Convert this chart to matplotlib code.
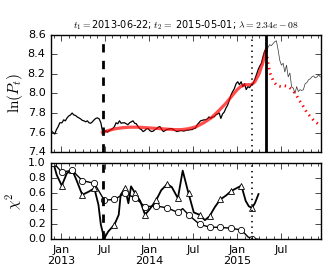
import numpy as np
import pandas as pd
import matplotlib
matplotlib.use('Agg')
import matplotlib.pyplot as plt
import matplotlib.dates as mdates

plt.style.use('classic')
plt.rcParams['mathtext.fontset'] = 'cm'
plt.rcParams['font.family'] = 'DejaVu Sans'

# ---- data ----
t1 = '2013-06-22'
t2 = '2015-05-01'
t_mark = '2015-03-01'

price_dates = [
    '2012-11-22', '2012-11-29', '2012-12-06', '2012-12-13', '2012-12-20', '2012-12-27',
    '2013-01-05', '2013-01-12', '2013-01-19', '2013-01-26', '2013-02-02', '2013-02-09',
    '2013-02-16', '2013-02-23', '2013-03-02', '2013-03-09', '2013-03-16', '2013-03-23',
    '2013-03-30', '2013-04-06', '2013-04-13', '2013-04-20', '2013-04-27', '2013-05-04',
    '2013-05-11', '2013-05-18', '2013-05-25', '2013-06-01', '2013-06-08', '2013-06-15',
    '2013-06-22', '2013-06-29', '2013-07-06', '2013-07-13', '2013-07-20', '2013-07-27',
    '2013-08-03', '2013-08-10', '2013-08-17', '2013-08-24', '2013-08-31', '2013-09-07',
    '2013-09-14', '2013-09-21', '2013-09-28', '2013-10-05', '2013-10-12', '2013-10-19',
    '2013-10-26', '2013-11-02', '2013-11-09', '2013-11-16', '2013-11-23', '2013-11-30',
    '2013-12-07', '2013-12-14', '2013-12-21', '2013-12-28', '2014-01-04', '2014-01-11',
    '2014-01-18', '2014-01-25', '2014-02-01', '2014-02-08', '2014-02-15', '2014-02-22',
    '2014-03-01', '2014-03-08', '2014-03-15', '2014-03-22', '2014-03-29', '2014-04-05',
    '2014-04-12', '2014-04-19', '2014-04-26', '2014-05-03', '2014-05-10', '2014-05-17',
    '2014-05-24', '2014-05-31', '2014-06-07', '2014-06-14', '2014-06-21', '2014-06-28',
    '2014-07-05', '2014-07-12', '2014-07-19', '2014-07-26', '2014-08-02', '2014-08-09',
    '2014-08-16', '2014-08-23', '2014-08-30', '2014-09-06', '2014-09-13', '2014-09-20',
    '2014-09-27', '2014-10-04', '2014-10-11', '2014-10-18', '2014-10-25', '2014-11-01',
    '2014-11-08', '2014-11-15', '2014-11-22', '2014-11-29', '2014-12-06', '2014-12-13',
    '2014-12-20', '2014-12-27', '2015-01-03', '2015-01-10', '2015-01-17', '2015-01-24',
    '2015-01-31', '2015-02-07', '2015-02-14', '2015-02-21', '2015-02-28', '2015-03-07',
    '2015-03-14', '2015-03-21', '2015-03-28', '2015-04-04', '2015-04-11', '2015-04-18',
    '2015-04-25', '2015-05-01', '2015-05-08', '2015-05-15', '2015-05-22', '2015-05-29',
    '2015-06-05', '2015-06-12', '2015-06-19', '2015-06-26', '2015-07-03', '2015-07-10',
    '2015-07-17', '2015-07-24', '2015-07-31', '2015-08-07', '2015-08-14', '2015-08-21',
    '2015-08-28', '2015-09-04', '2015-09-11', '2015-09-18', '2015-09-25', '2015-10-02',
    '2015-10-09', '2015-10-16', '2015-10-23', '2015-10-30', '2015-11-06', '2015-11-13',
    '2015-11-20', '2015-11-27', '2015-12-04', '2015-12-11']
price_vals = [
    7.615, 7.60, 7.585, 7.63, 7.66, 7.70,
    7.70, 7.73, 7.72, 7.75, 7.77, 7.78,
    7.80, 7.78, 7.775, 7.76, 7.75, 7.74,
    7.725, 7.72, 7.71, 7.72, 7.70, 7.695,
    7.71, 7.73, 7.745, 7.75, 7.74, 7.70,
    7.61, 7.60, 7.62, 7.605, 7.62, 7.63,
    7.64, 7.66, 7.70, 7.69, 7.72, 7.695,
    7.70, 7.70, 7.69, 7.68, 7.70, 7.71,
    7.72, 7.695, 7.69, 7.66, 7.64, 7.63,
    7.61, 7.62, 7.64, 7.64, 7.62, 7.61,
    7.615, 7.63, 7.64, 7.655, 7.66, 7.63,
    7.61, 7.62, 7.63, 7.635, 7.64, 7.64,
    7.63, 7.62, 7.61, 7.615, 7.62, 7.62,
    7.615, 7.62, 7.625, 7.625, 7.63, 7.63,
    7.64, 7.645, 7.68, 7.70, 7.72, 7.725,
    7.73, 7.73, 7.74, 7.76, 7.745, 7.76,
    7.76, 7.78, 7.79, 7.80, 7.745, 7.79,
    7.81, 7.85, 7.88, 7.93, 7.985, 8.02,
    8.05, 8.10, 8.12, 8.09, 8.12, 8.07,
    8.10, 8.04, 8.07, 8.06, 8.09, 8.10,
    8.14, 8.19, 8.24, 8.28, 8.31, 8.38,
    8.44, 8.42, 8.47, 8.50, 8.49, 8.51,
    8.53, 8.54, 8.45, 8.34, 8.29, 8.31,
    8.22, 8.29, 8.17, 8.21, 8.07, 8.055,
    8.00, 8.07, 8.02, 8.04, 8.03, 8.04,
    8.10, 8.11, 8.14, 8.15, 8.17, 8.18,
    8.16, 8.17, 8.19, 8.17]

fit_dates = [
    '2013-06-22', '2013-07-15', '2013-08-15', '2013-09-15', '2013-10-15', '2013-11-15',
    '2013-12-15', '2014-01-15', '2014-02-15', '2014-03-15', '2014-04-15', '2014-05-15',
    '2014-06-15', '2014-07-15', '2014-08-15', '2014-09-15', '2014-10-15', '2014-11-15',
    '2014-12-15', '2015-01-01', '2015-01-15', '2015-02-01', '2015-02-15', '2015-03-01',
    '2015-03-15', '2015-04-01', '2015-04-15', '2015-05-01']
fit_vals = [
    7.60, 7.62, 7.64, 7.65, 7.655, 7.655,
    7.65, 7.645, 7.64, 7.635, 7.63, 7.63,
    7.64, 7.66, 7.70, 7.75, 7.82, 7.90,
    7.99, 8.04, 8.07, 8.09, 8.09, 8.09,
    8.12, 8.20, 8.30, 8.45]

extra_dates = [
    '2015-05-01', '2015-05-15', '2015-06-01', '2015-06-15', '2015-07-01', '2015-07-15',
    '2015-08-01', '2015-08-15', '2015-09-01', '2015-09-15', '2015-10-01', '2015-10-15',
    '2015-11-01', '2015-11-15', '2015-12-01', '2015-12-14']
extra_vals = [
    8.43, 8.22, 8.12, 8.08, 8.07, 8.08,
    8.07, 8.04, 7.99, 7.93, 7.87, 7.81,
    7.76, 7.72, 7.69, 7.67]

tri_dates = [
    '2012-11-30', '2012-12-14', '2013-01-04', '2013-01-25', '2013-02-16', '2013-03-05',
    '2013-03-30', '2013-04-25', '2013-05-19', '2013-06-05', '2013-06-15', '2013-06-29',
    '2013-07-15', '2013-08-10', '2013-08-28', '2013-09-05', '2013-09-23', '2013-10-07',
    '2013-10-18', '2013-11-04', '2013-11-25', '2013-12-15', '2014-01-05', '2014-01-30',
    '2014-02-20', '2014-03-17', '2014-04-05', '2014-04-30', '2014-05-20', '2014-06-13',
    '2014-07-05', '2014-07-29', '2014-08-20', '2014-09-08', '2014-09-30', '2014-10-23',
    '2014-11-15', '2014-12-07', '2014-12-25', '2015-01-18', '2015-02-05', '2015-02-18',
    '2015-03-03', '2015-03-15', '2015-03-30']
tri_vals = [
    1.00, 0.84, 0.70, 0.86, 0.905, 0.78,
    0.58, 0.62, 0.665, 0.45, 0.19, 0.01,
    0.10, 0.19, 0.32, 0.58, 0.665, 0.47,
    0.69, 0.60, 0.50, 0.32, 0.40, 0.51,
    0.64, 0.72, 0.68, 0.535, 0.895, 0.60,
    0.35, 0.32, 0.25, 0.30, 0.42, 0.52,
    0.57, 0.63, 0.66, 0.70, 0.50, 0.43,
    0.41, 0.47, 0.59]
tri_marks = [0, 2, 4, 6, 8, 13, 16, 19, 21, 23, 25, 27, 29, 31, 33, 35, 37, 39, 42]

circ_dates = [
    '2012-11-30', '2013-01-04', '2013-02-16', '2013-03-30', '2013-05-19', '2013-06-29',
    '2013-08-10', '2013-09-23', '2013-11-04', '2013-12-15', '2014-01-30', '2014-03-17',
    '2014-04-30', '2014-05-20', '2014-06-13', '2014-07-29', '2014-09-08', '2014-10-23',
    '2014-12-07', '2015-01-18', '2015-02-15', '2015-03-03', '2015-03-30']
circ_vals = [
    1.00, 0.875, 0.90, 0.765, 0.73, 0.51,
    0.52, 0.60, 0.54, 0.425, 0.435, 0.41,
    0.35, 0.40, 0.32, 0.195, 0.16, 0.155,
    0.145, 0.12, 0.03, 0.01, 0.0]
circ_marks = [0, 1, 2, 3, 4, 5, 6, 7, 8, 9, 10, 11, 12, 14, 15, 16, 17, 18, 19, 21]

# ---- prepare ----
pd_dates = pd.to_datetime(price_dates)
pv = np.array(price_vals)
T1 = pd.Timestamp(t1)
T2 = pd.Timestamp(t2)
inside = pd_dates <= T2
outside = pd_dates >= T2

fig = plt.figure(figsize=(3.32, 2.77), dpi=100, facecolor='white')
ax1 = fig.add_axes([0.154, 0.451, 0.813, 0.423])
ax2 = fig.add_axes([0.154, 0.136, 0.813, 0.277], sharex=ax1)

ax1.plot(pd_dates[inside], pv[inside], color='k', lw=0.9)
ax1.plot(pd_dates[outside], pv[outside], color='#333333', lw=0.5)
ax1.plot(pd.to_datetime(fit_dates), fit_vals, color='red', lw=2.3, alpha=0.7)
ax1.plot(pd.to_datetime(extra_dates), extra_vals, color='red', lw=2, ls=':')
ax1.axvline(T1, color='k', lw=2, ls='--')
ax1.axvline(pd.Timestamp(t_mark), color='k', lw=1.2, ls=':')
ax1.axvline(T2, color='k', lw=2)
ax1.set_ylim(7.4, 8.6)
ax1.set_yticks(np.arange(7.4, 8.61, 0.2))
ax1.set_ylabel(r'$\ln(P_t)$', fontsize=11, labelpad=2)
ax1.set_title(r'$t_1=$2013-06-22; $t_2=$ 2015-05-01; $\lambda=2.34e-08$', fontsize=7)
plt.setp(ax1.get_xticklabels(), visible=False)

ax2.plot(pd.to_datetime(tri_dates), tri_vals, color='k', lw=1.3, marker='^',
         mfc='white', mec='k', ms=4.5, mew=0.6, markevery=tri_marks)
ax2.plot(pd.to_datetime(circ_dates), circ_vals, color='k', lw=1.0, marker='o',
         mfc='white', mec='k', ms=4.5, mew=0.6, markevery=circ_marks)
ax2.axvline(T1, color='k', lw=2, ls='--')
ax2.axvline(pd.Timestamp(t_mark), color='k', lw=1.2, ls=':')
ax2.set_ylim(0, 1)
ax2.set_yticks(np.arange(0, 1.01, 0.2))
ax2.set_ylabel(r'$\chi^2$', fontsize=11, labelpad=2)

ax2.set_xlim(pd.Timestamp('2012-11-21'), pd.Timestamp('2015-12-14'))
ax2.xaxis.set_major_locator(mdates.MonthLocator(bymonth=[1, 7]))
ax2.xaxis.set_minor_locator(mdates.MonthLocator())

def fmt(x, pos=None):
    d = mdates.num2date(x)
    if d.month == 1:
        return d.strftime('%b\n%Y')
    return d.strftime('%b')

ax2.xaxis.set_major_formatter(plt.FuncFormatter(fmt))

for ax in (ax1, ax2):
    ax.tick_params(labelsize=8, direction='in', top=True, right=True)
    ax.tick_params(which='major', length=4)
    ax.tick_params(which='minor', length=2)
    ax.yaxis.set_major_formatter(plt.FormatStrFormatter('%.1f'))

fig.savefig('out.png', dpi=100, facecolor='white')
